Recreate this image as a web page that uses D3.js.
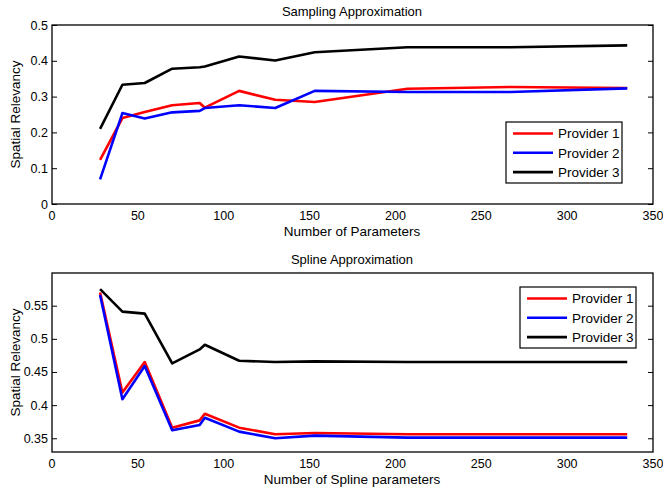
<!DOCTYPE html>
<html>
<head>
<meta charset="utf-8">
<script src="https://cdn.jsdelivr.net/npm/d3@7"></script>
<style>
  body { margin: 0; background: #fff; }
  text { font-family: "Liberation Sans", Arial, Helvetica, sans-serif; fill: #000; }
</style>
</head>
<body>
<div id="chart"></div>
<script>

// shared x values (number of parameters)
const params = [28, 41, 54, 70, 86, 89, 109, 130, 153, 207, 267, 335];

// sampling approximation
const samplingP1 = [0.123, 0.240, 0.257, 0.276, 0.282, 0.269, 0.316, 0.291, 0.285, 0.322, 0.327, 0.324];
const samplingP2 = [0.069, 0.254, 0.239, 0.256, 0.260, 0.268, 0.276, 0.268, 0.316, 0.313, 0.313, 0.323];
const samplingP3 = [0.210, 0.333, 0.338, 0.378, 0.382, 0.384, 0.412, 0.401, 0.424, 0.438, 0.438, 0.443];

// spline approximation
const splineP1 = [0.570, 0.419, 0.465, 0.366, 0.377, 0.387, 0.366, 0.356, 0.358, 0.356, 0.356, 0.356];
const splineP2 = [0.566, 0.409, 0.459, 0.362, 0.370, 0.381, 0.360, 0.350, 0.354, 0.351, 0.351, 0.351];
const splineP3 = [0.575, 0.541, 0.538, 0.463, 0.484, 0.491, 0.467, 0.465, 0.466, 0.465, 0.465, 0.465];

const seriesNames = ["Provider 1", "Provider 2", "Provider 3"];
const seriesColors = ["#ff0000", "#0000ff", "#000000"];

const xTicks = [0, 50, 100, 150, 200, 250, 300, 350];
const samplingYTicks = [0, 0.1, 0.2, 0.3, 0.4, 0.5];
const splineYTicks = [0.35, 0.4, 0.45, 0.5, 0.55];

const W = 663, H = 493;

const svg = d3.select("#chart").append("svg")
    .attr("width", W)
    .attr("height", H);

const x = d3.scaleLinear().domain([0, 350]).range([52, 653]);

function drawPanel(opts) {
    let y = d3.scaleLinear().domain(opts.yDomain).range([opts.bottom, opts.top]);
    let g = svg.append("g");

    // lines
    let line = d3.line()
        .x((d, i) => x(params[i]))
        .y(d => y(d));

    opts.series.forEach((s, k) => {
        g.append("path")
            .datum(s)
            .attr("d", line)
            .attr("fill", "none")
            .attr("stroke", seriesColors[k])
            .attr("stroke-width", 2.6)
            .attr("stroke-linejoin", "round");
    });

    // y axis left and right, ticks pointing inward
    let fmt = d3.format("~g");
    g.append("g")
        .attr("transform", "translate(" + x.range()[0] + ",0)")
        .call(d3.axisRight(y).tickValues(opts.yTicks).tickSize(5).tickFormat(""))
        .call(a => a.select(".domain").remove());
    g.append("g")
        .attr("transform", "translate(" + x.range()[1] + ",0)")
        .call(d3.axisLeft(y).tickValues(opts.yTicks).tickSize(5).tickFormat(""))
        .call(a => a.select(".domain").remove());

    g.selectAll(".ylab")
        .data(opts.yTicks)
        .enter().append("text")
        .attr("x", x.range()[0] - 4)
        .attr("y", d => y(d))
        .attr("dy", "0.36em")
        .attr("text-anchor", "end")
        .style("font-size", "12.5px")
        .text(d => fmt(d));

    // x tick labels
    g.selectAll(".xlab")
        .data(xTicks)
        .enter().append("text")
        .attr("x", d => x(d))
        .attr("y", opts.bottom + 16)
        .attr("text-anchor", "middle")
        .style("font-size", "12.5px")
        .text(d => d);

    // box
    g.append("rect")
        .attr("x", x.range()[0])
        .attr("y", opts.top)
        .attr("width", x.range()[1] - x.range()[0])
        .attr("height", opts.bottom - opts.top)
        .attr("fill", "none")
        .attr("stroke", "#000")
        .attr("stroke-width", 1.3);

    // title and labels
    g.append("text")
        .attr("x", 352)
        .attr("y", opts.top - 9)
        .attr("text-anchor", "middle")
        .style("font-size", "13px")
        .text(opts.title);

    g.append("text")
        .attr("x", 352)
        .attr("y", opts.bottom + 32)
        .attr("text-anchor", "middle")
        .style("font-size", "13.5px")
        .text(opts.xLabel);

    g.append("text")
        .attr("transform", "translate(20," + ((opts.top + opts.bottom) / 2) + ") rotate(-90)")
        .attr("text-anchor", "middle")
        .style("font-size", "13.5px")
        .text("Spatial Relevancy");

    // legend
    let lg = g.append("g").attr("transform", "translate(" + opts.legend[0] + "," + opts.legend[1] + ")");
    lg.append("rect")
        .attr("width", 116)
        .attr("height", 61)
        .attr("fill", "#fff")
        .attr("stroke", "#000")
        .attr("stroke-width", 1.2);
    seriesNames.forEach((name, k) => {
        let yy = 11.5 + k * 19.3;
        lg.append("line")
            .attr("x1", 7).attr("x2", 47)
            .attr("y1", yy).attr("y2", yy)
            .attr("stroke", seriesColors[k])
            .attr("stroke-width", 2.6);
        lg.append("text")
            .attr("x", 52)
            .attr("y", yy)
            .attr("dy", "0.36em")
            .style("font-size", "13.5px")
            .text(name);
    });
}

drawPanel({
    top: 25, bottom: 204,
    yDomain: [0, 0.5],
    yTicks: samplingYTicks,
    series: [samplingP1, samplingP2, samplingP3],
    title: "Sampling Approximation",
    xLabel: "Number of Parameters",
    legend: [506, 122]
});

drawPanel({
    top: 273, bottom: 452,
    yDomain: [0.3293, 0.5993],
    yTicks: splineYTicks,
    series: [splineP1, splineP2, splineP3],
    title: "Spline Approximation",
    xLabel: "Number of Spline parameters",
    legend: [520, 287]
});

</script>
</body>
</html>
